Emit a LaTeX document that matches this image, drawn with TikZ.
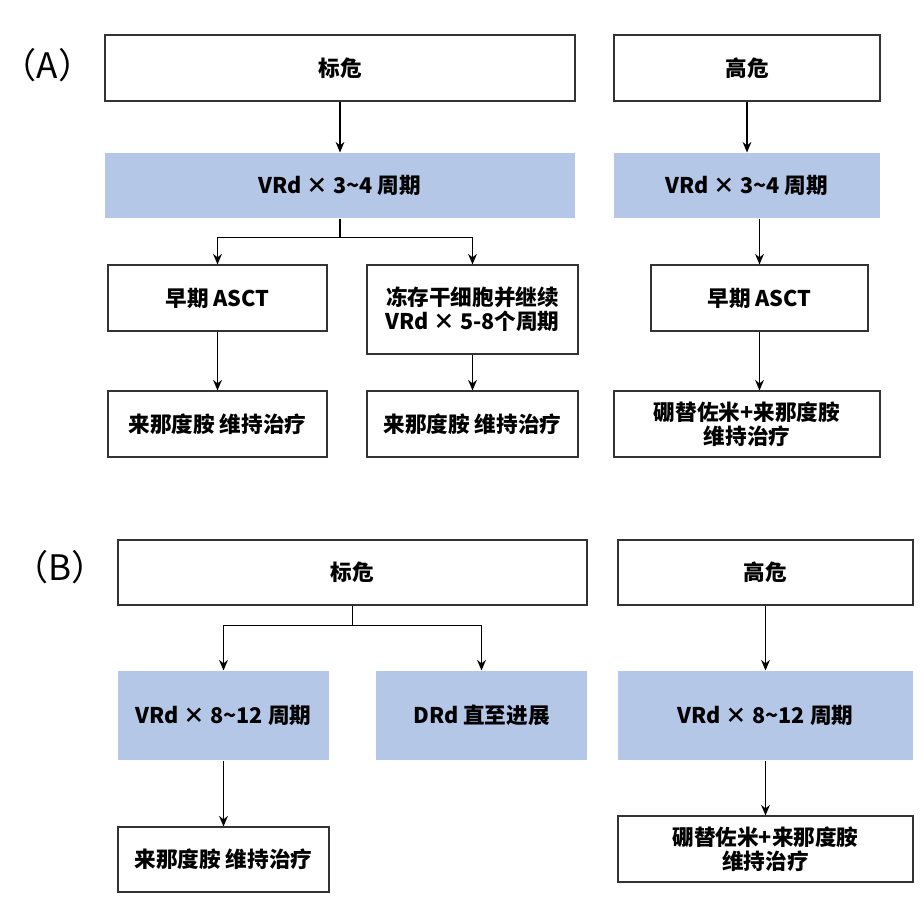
\documentclass[tikz,border=0pt]{standalone}
\usepackage{fontspec}
\setmainfont{Noto Sans CJK SC}
\usetikzlibrary{arrows.meta}
\definecolor{boxblue}{HTML}{B4C7E7}
\tikzset{
  box/.style={draw=black!80, line width=0.6pt, align=center, inner sep=1pt,
    font=\fontsize{12.3}{13.5}\selectfont\bfseries},
  bluebox/.style={box, draw=none, fill=boxblue},
  arr/.style={-{Stealth[length=6pt,width=5pt]}, line width=0.7pt},
}
\newcommand{\tl}{\char`\~}
\begin{document}
\begin{tikzpicture}
  \useasboundingbox (0,0) rectangle (18.48,-18.16);
  % (A)
  \node[font=\fontsize{20}{22}\selectfont] (la) at (0.95,-1.3) {（A）};
  \node[box, minimum width=9.4cm, minimum height=1.32cm] (a1) at (6.8,-1.36) {标危};
  \node[box, minimum width=5.32cm, minimum height=1.32cm] (a2) at (14.94,-1.36) {高危};
  \node[bluebox, minimum width=9.4cm, minimum height=1.3cm] (a3) at (6.8,-3.71) {VRd × 3\tl4 周期};
  \node[bluebox, minimum width=5.32cm, minimum height=1.3cm] (a4) at (14.94,-3.71) {VRd × 3\tl4 周期};
  \node[box, minimum width=4.38cm, minimum height=1.32cm] (a5) at (4.35,-5.96) {早期 ASCT};
  \node[box, minimum width=4.22cm, minimum height=1.78cm] (a6) at (9.45,-6.19) {冻存干细胞并继续\\VRd × 5-8个周期};
  \node[box, minimum width=4.38cm, minimum height=1.32cm] (a7) at (4.35,-8.48) {来那度胺 维持治疗};
  \node[box, minimum width=4.22cm, minimum height=1.32cm] (a8) at (9.45,-8.48) {来那度胺 维持治疗};
  \node[box, minimum width=4.34cm, minimum height=1.32cm] (a9) at (15.19,-5.96) {早期 ASCT};
  \node[box, minimum width=5.32cm, minimum height=1.32cm] (a10) at (14.94,-8.48) {硼替佐米+来那度胺\\维持治疗};
  \draw[arr] (a1) -- (a3);
  \draw[arr] (a3.south) -- ++(0,-0.38) -| (a5.north);
  \draw[arr] (a3.south) -- ++(0,-0.38) -| (a6.north);
  \draw[arr] (a5) -- (a7);
  \draw[arr] (a6) -- (a8);
  \draw[arr] (a2) -- (a4);
  \draw[arr] (a4.south -| a9) -- (a9);
  \draw[arr] (a9.south) -- (a9.south |- a10.north);
  % (B)
  \node[font=\fontsize{20}{22}\selectfont] (lb) at (1.2,-11.35) {（B）};
  \node[box, minimum width=9.38cm, minimum height=1.3cm] (b1) at (7.05,-11.45) {标危};
  \node[box, minimum width=5.9cm, minimum height=1.3cm] (b2) at (15.31,-11.45) {高危};
  \node[bluebox, minimum width=4.22cm, minimum height=1.78cm] (b3) at (4.47,-14.31) {VRd × 8\tl12 周期};
  \node[bluebox, minimum width=4.22cm, minimum height=1.78cm] (b4) at (9.63,-14.31) {DRd 直至进展};
  \node[bluebox, minimum width=5.9cm, minimum height=1.78cm] (b5) at (15.31,-14.31) {VRd × 8\tl12 周期};
  \node[box, minimum width=4.22cm, minimum height=1.3cm] (b6) at (4.47,-17.19) {来那度胺 维持治疗};
  \node[box, minimum width=5.9cm, minimum height=1.32cm] (b7) at (15.31,-16.98) {硼替佐米+来那度胺\\维持治疗};
  \draw[arr] (b1.south) -- ++(0,-0.4) -| (b3.north);
  \draw[arr] (b1.south) -- ++(0,-0.4) -| (b4.north);
  \draw[arr] (b3) -- (b6);
  \draw[arr] (b2) -- (b5);
  \draw[arr] (b5) -- (b7);
\end{tikzpicture}
\end{document}
